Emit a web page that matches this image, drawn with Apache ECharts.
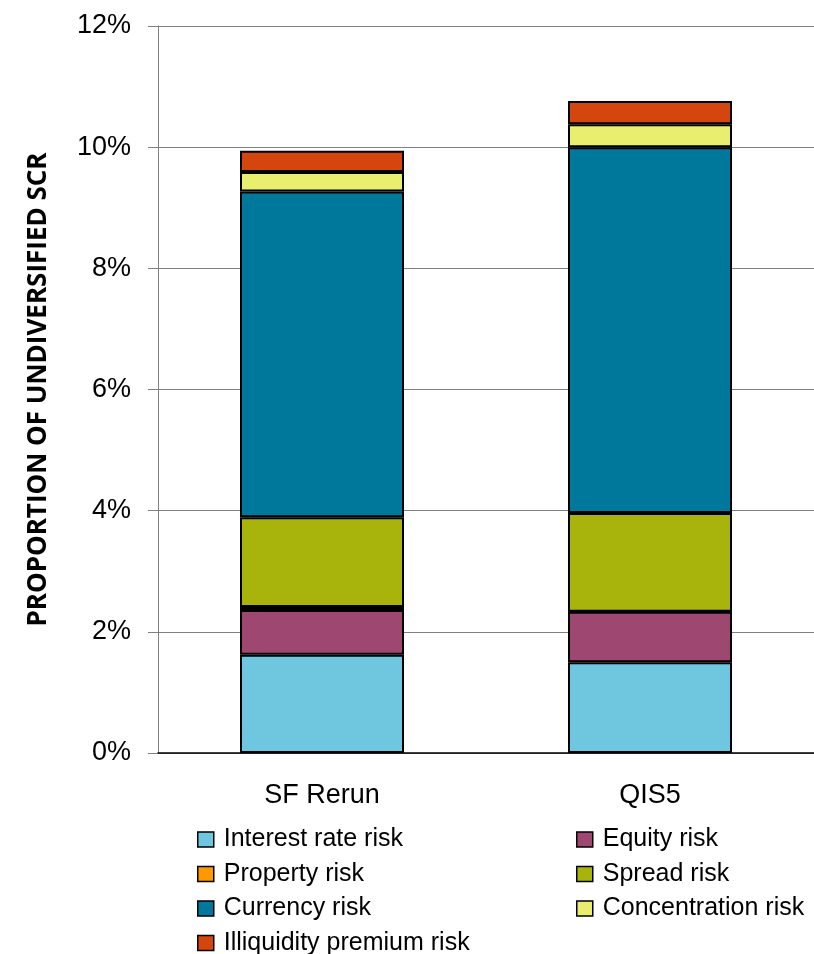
<!DOCTYPE html>
<html>
<head>
<meta charset="utf-8">
<script src="https://cdn.jsdelivr.net/npm/echarts@6/dist/echarts.min.js"></script>
<style>
  html, body { margin: 0; padding: 0; background: #fff; }
  #chart { width: 814px; height: 954px; }
</style>
</head>
<body>
<div id="chart"></div>
<script>
// Undiversified SCR by risk module, as % of total (stacked)
const categories = ['SF Rerun', 'QIS5'];
const interestRate  = [1.62, 1.50];
const equity        = [0.74, 0.83];
const property      = [0.05, 0.00];
const spread        = [1.48, 1.63];
const currency      = [5.38, 6.04];
const concentration = [0.32, 0.38];
const illiquidity   = [0.35, 0.38];
const yTicks = { min: 0, max: 12, interval: 2 };

const seriesDefs = [
  { name: 'Interest rate risk',       data: interestRate,  color: '#6EC6DF' },
  { name: 'Equity risk',              data: equity,        color: '#9E4770' },
  { name: 'Property risk',            data: property,      color: '#FF9900' },
  { name: 'Spread risk',              data: spread,        color: '#A8B40C' },
  { name: 'Currency risk',            data: currency,      color: '#00789C' },
  { name: 'Concentration risk',       data: concentration, color: '#EAEE6E' },
  { name: 'Illiquidity premium risk', data: illiquidity,   color: '#D5460F' }
];

// legend laid out as two columns
const leftLegend  = ['Interest rate risk', 'Property risk', 'Currency risk', 'Illiquidity premium risk'];
const rightLegend = ['Equity risk', 'Spread risk', 'Concentration risk'];

const font = 'Liberation Sans, Arial, sans-serif';
const legendCommon = {
  orient: 'vertical',
  top: 827,
  height: 180,
  padding: 0,
  itemWidth: 16,
  itemHeight: 15,
  itemGap: 9.5,
  icon: 'rect',
  itemStyle: { borderColor: '#000', borderWidth: 1.5 },
  textStyle: { fontFamily: font, fontSize: 25, color: '#000', padding: [0, 0, 0, 5] },
  selectedMode: false
};

const chart = echarts.init(document.getElementById('chart'), null, { renderer: 'canvas' });
chart.setOption({
  animation: false,
  backgroundColor: '#fff',
  grid: { left: 158, right: 0, top: 26, bottom: 201, containLabel: false },
  legend: [
    Object.assign({}, legendCommon, { left: 197, data: leftLegend }),
    Object.assign({}, legendCommon, { left: 576, data: rightLegend })
  ],
  xAxis: {
    type: 'category',
    data: categories,
    axisLine: { lineStyle: { color: '#000', width: 1.5 } },
    axisTick: { show: false },
    axisLabel: { fontFamily: font, fontSize: 27, color: '#000', margin: 29 }
  },
  yAxis: {
    type: 'value',
    min: yTicks.min,
    max: yTicks.max,
    interval: yTicks.interval,
    name: 'PROPORTION OF UNDIVERSIFIED SCR',
    nameLocation: 'middle',
    nameGap: 106,
    nameTextStyle: { fontFamily: 'Open Sans, sans-serif', fontWeight: 'bold', fontSize: 26, color: '#000' },
    axisLine: { show: true, lineStyle: { color: '#808080', width: 1 } },
    axisTick: { show: true, length: 10, lineStyle: { color: '#808080' } },
    splitLine: { lineStyle: { color: '#808080', width: 1 } },
    axisLabel: { fontFamily: font, fontSize: 27, color: '#000', margin: 27, formatter: '{value}%' }
  },
  series: seriesDefs.map(s => ({
    name: s.name,
    type: 'bar',
    stack: 'scr',
    barWidth: '50%',
    data: s.data,
    itemStyle: { color: s.color, borderColor: '#000', borderWidth: 2 }
  }))
});
</script>
</body>
</html>
